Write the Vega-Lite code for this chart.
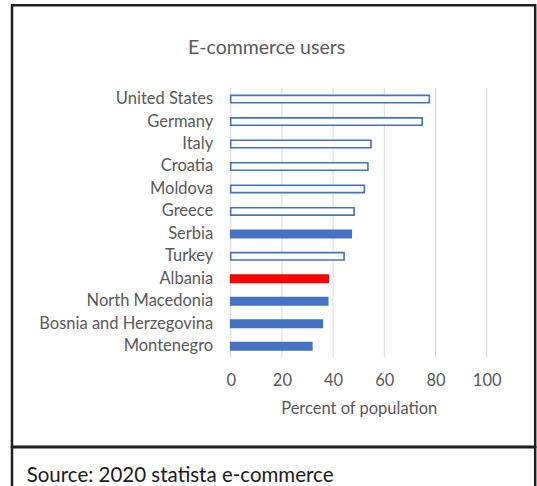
{
  "$schema": "https://vega.github.io/schema/vega-lite/v6.json",
  "background": "white",
  "padding": {"left": 10, "top": 3.25, "right": 0, "bottom": 0},
  "spacing": 0,
  "bounds": "flush",
  "config": {
    "view": {"stroke": "#1f1f1f", "strokeWidth": 2.5},
    "font": "Lato"
  },
  "datasets": {
    "users": [
      {"country": "United States", "value": 77.6, "group": "outline"},
      {"country": "Germany", "value": 74.8, "group": "outline"},
      {"country": "Italy", "value": 54.8, "group": "outline"},
      {"country": "Croatia", "value": 53.6, "group": "outline"},
      {"country": "Moldova", "value": 52.2, "group": "outline"},
      {"country": "Greece", "value": 48.2, "group": "outline"},
      {"country": "Serbia", "value": 47.1, "group": "filled"},
      {"country": "Turkey", "value": 44.3, "group": "outline"},
      {"country": "Albania", "value": 38.1, "group": "highlight"},
      {"country": "North Macedonia", "value": 37.9, "group": "filled"},
      {"country": "Bosnia and Herzegovina", "value": 35.8, "group": "filled"},
      {"country": "Montenegro", "value": 31.7, "group": "filled"}
    ],
    "ticks": [{"tick": 0}, {"tick": 20}, {"tick": 40}, {"tick": 60}, {"tick": 80}, {"tick": 100}],
    "note": [{"note": "", "pos": 0}]
  },
  "vconcat": [
    {
      "width": 523.2,
      "height": 441.5,
      "title": {
        "text": "E-commerce users",
        "anchor": "middle",
        "orient": "top",
        "offset": -67.8,
        "dx": -7,
        "baseline": "alphabetic",
        "font": "Lato",
        "fontSize": 19.5,
        "fontWeight": "normal",
        "color": "#595959"
      },
      "layer": [
        {
          "data": {"name": "ticks"},
          "mark": {"type": "rule", "color": "#D9D9D9", "strokeWidth": 1},
          "encoding": {
            "x": {
              "field": "tick", "type": "quantitative",
              "scale": {"domain": [0, 100], "range": [218.7, 474.7], "nice": false, "zero": false},
              "axis": {
                "orient": "bottom", "offset": -89.3, "values": [0, 20, 40, 60, 80, 100],
                "ticks": false, "domain": false, "grid": false, "labelFlush": false,
                "labelFont": "Lato", "labelFontSize": 16.5, "labelColor": "#595959", "labelPadding": 15,
                "title": "Percent of population", "titleFont": "Lato", "titleFontSize": 16.5,
                "titleFontWeight": "normal", "titleColor": "#595959", "titlePadding": 12
              }
            },
            "y": {"datum": 0, "type": "quantitative", "scale": {"domain": [0, 1], "range": [82.6, 352.2], "nice": false, "zero": false}, "axis": null},
            "y2": {"datum": 1}
          }
        },
        {
          "data": {"name": "users"},
          "mark": {"type": "bar", "strokeWidth": 1.6},
          "encoding": {
            "y": {
              "field": "country", "type": "nominal", "sort": null,
              "scale": {"range": [82.6, 352.2], "paddingInner": 0.67, "paddingOuter": 0.335},
              "axis": {
                "orient": "left", "offset": -218.7, "title": null,
                "ticks": false, "domain": false, "grid": false,
                "labelFont": "Lato", "labelFontSize": 16.5, "labelColor": "#595959", "labelPadding": 18
              }
            },
            "x": {
              "field": "value", "type": "quantitative",
              "scale": {"domain": [0, 100], "range": [218.7, 474.7], "nice": false, "zero": false},
              "axis": {
                "orient": "bottom", "offset": -89.3, "values": [0, 20, 40, 60, 80, 100],
                "ticks": false, "domain": false, "grid": false, "labelFlush": false,
                "labelFont": "Lato", "labelFontSize": 16.5, "labelColor": "#595959", "labelPadding": 15,
                "title": "Percent of population", "titleFont": "Lato", "titleFontSize": 16.5,
                "titleFontWeight": "normal", "titleColor": "#595959", "titlePadding": 12
              }
            },
            "fill": {
              "field": "group", "type": "nominal", "legend": null,
              "scale": {"domain": ["outline", "filled", "highlight"], "range": ["#FFFFFF", "#4472C4", "#FF0000"]}
            },
            "stroke": {
              "field": "group", "type": "nominal", "legend": null,
              "scale": {"domain": ["outline", "filled", "highlight"], "range": ["#4472C4", "#4472C4", "#FF0000"]}
            }
          }
        }
      ],
      "resolve": {"scale": {"y": "independent"}}
    },
    {
      "width": 523.2,
      "height": 60,
      "title": {
        "text": "Source: 2020 statista e-commerce",
        "anchor": "start",
        "orient": "top",
        "offset": -55.7,
        "dx": 14.7,
        "baseline": "alphabetic",
        "font": "Lato",
        "fontSize": 20.5,
        "fontWeight": "normal",
        "color": "#1a1a1a"
      },
      "data": {"name": "note"},
      "mark": {"type": "text"},
      "encoding": {
        "text": {"field": "note", "type": "nominal"},
        "x": {"field": "pos", "type": "quantitative", "axis": null},
        "y": {"field": "pos", "type": "quantitative", "axis": null}
      }
    }
  ]
}
